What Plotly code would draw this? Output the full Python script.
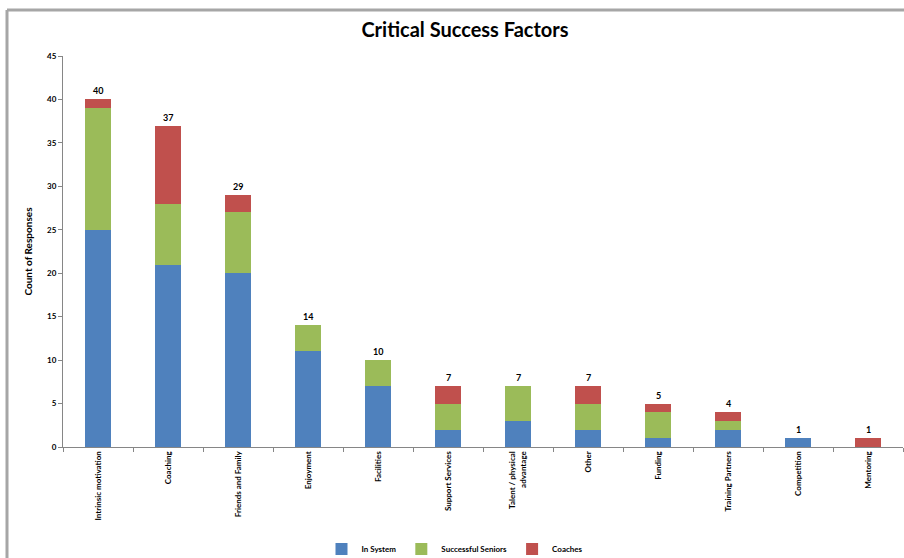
import plotly.graph_objects as go

categories = ["Intrinsic motivation", "Coaching", "Friends and Family", "Enjoyment",
              "Facilities", "Support Services", "Talent / physical<br>advantage", "Other",
              "Funding", "Training Partners", "Competition", "Mentoring"]
in_system = [25, 21, 20, 11, 7, 2, 3, 2, 1, 2, 1, 0]
successful_seniors = [14, 7, 7, 3, 3, 3, 4, 3, 3, 1, 0, 0]
coaches = [1, 9, 2, 0, 0, 2, 0, 2, 1, 1, 0, 1]
y_ticks = [0, 5, 10, 15, 20, 25, 30, 35, 40, 45]

totals = [a + b + c for a, b, c in zip(in_system, successful_seniors, coaches)]

FONT = "Lato"
fig = go.Figure()
series = [("In System", in_system, "#4F81BD"),
          ("Successful Seniors", successful_seniors, "#9BBB59"),
          ("Coaches", coaches, "#C0504D")]
for name, vals, col in series:
    fig.add_trace(go.Bar(x=categories, y=vals, name="<b>%s</b>" % name, marker_color=col,
                         marker_line_width=0, width=0.385))

for c, t in zip(categories, totals):
    fig.add_annotation(x=c, y=t, text="<b>%d</b>" % t, showarrow=False,
                       yanchor="bottom", yshift=1,
                       font=dict(family=FONT, size=9, color="#000"))

W, H = 904, 558
l, r, t, b = 63, 1, 56, 111
pw, ph = W - l - r, H - t - b
fx0 = (7 - l) / pw
fy1 = (H - b - 10) / ph
fig.add_shape(type="line", xref="paper", yref="paper", x0=fx0, x1=fx0, y0=-0.5, y1=fy1,
              line=dict(color="#A6A6A6", width=3))
fig.add_shape(type="line", xref="paper", yref="paper", x0=fx0, x1=1.2, y0=fy1, y1=fy1,
              line=dict(color="#A6A6A6", width=3))

fig.update_layout(
    width=W, height=H, barmode="stack",
    margin=dict(l=l, r=r, t=t, b=b, autoexpand=False),
    plot_bgcolor="white", paper_bgcolor="white",
    title=dict(text="<b>Critical Success Factors</b>", x=465 / W, xanchor="center",
               y=1 - 30 / H, yanchor="middle",
               font=dict(family=FONT, size=20, color="#000")),
    font=dict(family=FONT, color="#000"),
    xaxis=dict(showline=True, linecolor="#868686", linewidth=1, ticks="outside",
               tickcolor="#868686", ticklen=4, tickson="boundaries", tickangle=-90,
               automargin=False,
               tickfont=dict(family=FONT, size=8, color="#000"), showgrid=False,
               tickvals=categories, ticktext=["<b>%s</b>" % c for c in categories]),
    yaxis=dict(range=[0, 45], tickvals=y_ticks, ticktext=["<b>%d</b>" % v for v in y_ticks],
               showline=True, linecolor="#868686", automargin=False,
               linewidth=1, ticks="outside", tickcolor="#868686", ticklen=4,
               showgrid=False, zeroline=False,
               tickfont=dict(family=FONT, size=8, color="#000"),
               title=dict(text="<b>Count of Responses</b>", standoff=12,
                          font=dict(family=FONT, size=10, color="#000"))),
    legend=dict(orientation="h", x=(455 - l) / pw, xanchor="center",
                y=(H - b - 549) / ph, yanchor="middle",
                font=dict(family=FONT, size=8, color="#000"),
                itemwidth=30, traceorder="normal", tracegroupgap=0),
    bargap=0.6,
)
fig.write_html("out.html")
